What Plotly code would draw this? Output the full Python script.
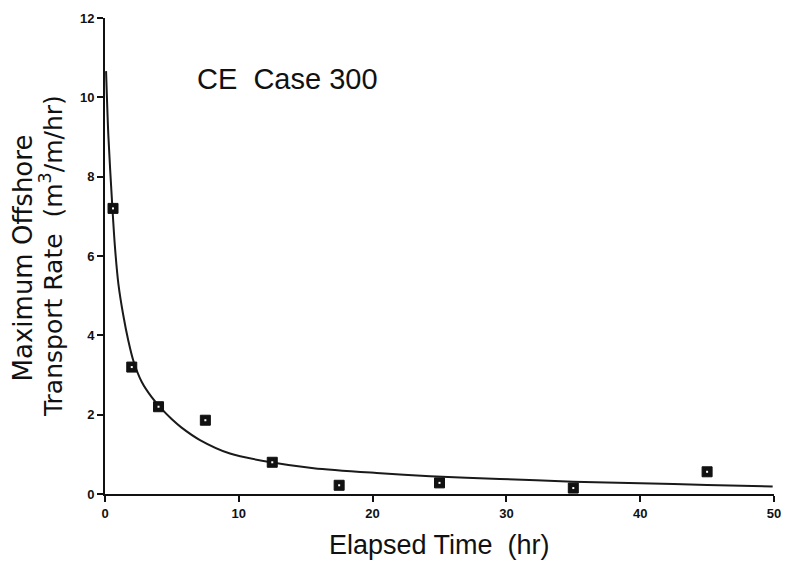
import plotly.graph_objects as go

# Measured data points
time_hr = [0.6, 2, 4, 7.5, 12.5, 17.5, 25, 35, 45]
rate = [7.2, 3.2, 2.2, 1.86, 0.8, 0.22, 0.28, 0.15, 0.56]

# Fitted curve
curve_x = [0.08, 0.25, 0.55, 0.75, 1.0, 1.37, 1.74, 2.12, 2.74, 3.49, 4.11, 4.98,
           5.7, 7.1, 9.34, 12.4, 15.6, 20.3, 24.3, 29.5, 35, 40, 45, 49.9]
curve_y = [10.66, 9.04, 7.23, 6.2, 5.3, 4.5, 3.87, 3.36, 2.83, 2.44, 2.19, 1.89,
           1.68, 1.36, 1.02, 0.8, 0.65, 0.53, 0.45, 0.38, 0.31, 0.27, 0.23, 0.19]

x_ticks = [0, 10, 20, 30, 40, 50]
y_ticks = [0, 2, 4, 6, 8, 10, 12]

font = "Liberation Sans"
NB = "\u00a0"

fig = go.Figure()
fig.add_trace(go.Scatter(x=curve_x, y=curve_y, mode="lines",
                         line=dict(color="#1a1a1a", width=2, shape="spline", smoothing=0.8),
                         hoverinfo="skip", showlegend=False))
fig.add_trace(go.Scatter(x=time_hr, y=rate, mode="markers",
                         marker=dict(symbol="square", size=10, color="#111111",
                                     line=dict(color="#111111", width=1)),
                         showlegend=False))
fig.add_trace(go.Scatter(x=time_hr, y=rate, mode="markers",
                         marker=dict(symbol="square", size=2, color="white"),
                         hoverinfo="skip", showlegend=False))

axis_common = dict(showline=True, linecolor="#111111", linewidth=2, ticks="outside",
                   ticklen=6, tickwidth=2, tickcolor="#111111", showgrid=False,
                   zeroline=False, ticklabeloverflow="allow",
                   tickfont=dict(family=font, size=13, color="#111111"))

fig.update_xaxes(range=[0, 50], tickvals=x_ticks,
                 ticktext=["<b>%d</b>" % v for v in x_ticks], **axis_common)
fig.update_yaxes(range=[0, 12], tickvals=y_ticks,
                 ticktext=["<b>%d</b>" % v for v in y_ticks], **axis_common)

fig.add_annotation(text="CE" + NB + NB + "Case 300", x=6.7, y=10.47, xref="x", yref="y",
                   xanchor="left", yanchor="middle", showarrow=False,
                   font=dict(family=font, size=29, color="#111111"))
fig.add_annotation(text="Elapsed Time" + NB + NB + "(hr)", x=0.5007, y=-0.108,
                   xref="paper", yref="paper",
                   xanchor="center", yanchor="middle", showarrow=False,
                   font=dict(family=font, size=27, color="#111111"))
fig.add_annotation(text="Maximum Offshore",
                   x=-0.1226, y=0.497, xref="paper", yref="paper", textangle=-90,
                   xanchor="center", yanchor="middle", showarrow=False,
                   font=dict(family="DejaVu Sans", size=26, color="#111111"))
fig.add_annotation(text="Transport Rate" + NB + NB + "(m<sup>3</sup>/m/hr)",
                   x=-0.0807, y=0.50, xref="paper", yref="paper", textangle=-90,
                   xanchor="center", yanchor="middle", showarrow=False,
                   font=dict(family="DejaVu Sans", size=25, color="#111111"))

# Page body has an 8px margin; compensate so plot area lands where the reference has it
fig.update_layout(width=781, height=558, margin=dict(l=97, r=15, t=3, b=72),
                  plot_bgcolor="white", paper_bgcolor="white")

fig.write_html("out.html")
